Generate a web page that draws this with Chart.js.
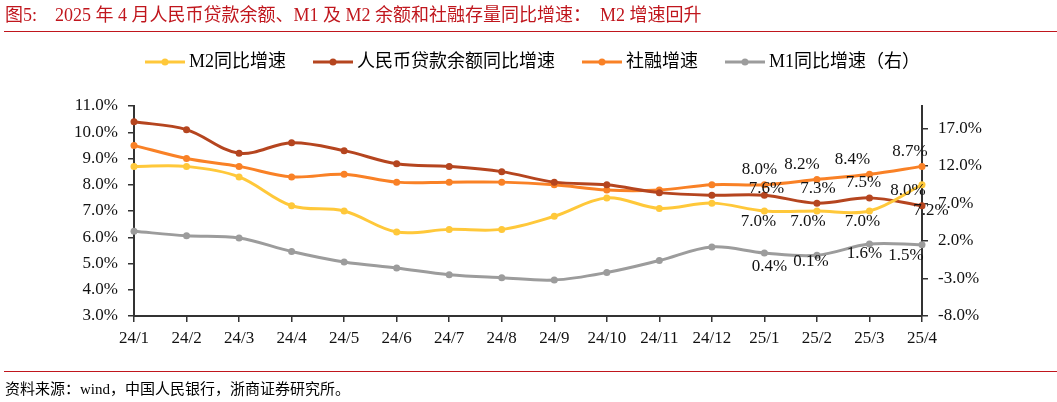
<!DOCTYPE html>
<html>
<head>
<meta charset="utf-8">
<script src="https://cdn.jsdelivr.net/npm/chart.js@4.4.0/dist/chart.umd.min.js"></script>
<style>
    body {
        margin: 0;
        width: 1057px;
        height: 402px;
        background: #fff;
        position: relative;
        overflow: hidden;
        font-family: "Liberation Serif", "Noto Sans CJK SC", serif;
    }
    #wrap { position: absolute; left: 0; top: 0; width: 1057px; height: 402px; }
    #title {
        position: absolute; left: 5px; top: 3px;
        font-size: 18px; line-height: 24px; color: #C0161D; white-space: pre;
    }
    .rule { position: absolute; left: 4px; width: 1053px; height: 1px; background: #C0161D; }
    #note {
        position: absolute; left: 5px; top: 379px;
        font-size: 15px; line-height: 20px; color: #000; white-space: pre;
    }
</style>
</head>
<body>
<div id="wrap"><canvas id="chart" width="1057" height="402"></canvas></div>
<div id="title">图5:    2025 年 4 月人民币贷款余额、M1 及 M2 余额和社融存量同比增速：  M2 增速回升</div>
<div class="rule" style="top:31px"></div>
<div class="rule" style="top:371px"></div>
<div id="note">资料来源：wind，中国人民银行，浙商证券研究所。</div>

<script>
// 数据
const months = ['24/1', '24/2', '24/3', '24/4', '24/5', '24/6', '24/7', '24/8',
    '24/9', '24/10', '24/11', '24/12', '25/1', '25/2', '25/3', '25/4'];
const m2Growth = [8.7, 8.7, 8.3, 7.2, 7.0, 6.2, 6.3, 6.3, 6.8, 7.5, 7.1, 7.3, 7.0, 7.0, 7.0, 8.0];
const loanGrowth = [10.4, 10.1, 9.2, 9.6, 9.3, 8.8, 8.7, 8.5, 8.1, 8.0, 7.7, 7.6, 7.6, 7.3, 7.5, 7.2];
const tsfGrowth = [9.5, 9.0, 8.7, 8.3, 8.4, 8.1, 8.1, 8.1, 8.0, 7.8, 7.8, 8.0, 8.0, 8.2, 8.4, 8.7];
const m1Growth = [3.3, 2.7, 2.4, 0.6, -0.8, -1.6, -2.5, -2.9, -3.2, -2.2, -0.6, 1.2, 0.4, 0.1, 1.6, 1.5];
const rightTicks = [-8, -3, 2, 7, 12, 17];

const FONT = '"Liberation Serif", "Noto Sans CJK SC", serif';
const AXIS = '#333333';

// 数据标签（最后四个月）
const labelPlugin = {
    id: 'lastLabels',
    afterDatasetsDraw(chart, args, opts) {
        const ctx = chart.ctx;
        ctx.save();
        ctx.font = '17px ' + FONT;
        ctx.fillStyle = '#111';
        ctx.textAlign = 'center';
        ctx.textBaseline = 'middle';
        chart.data.datasets.forEach((ds, i) => {
            const meta = chart.getDatasetMeta(i);
            const offs = opts.offsets[i];
            const start = ds.data.length - offs.length;
            offs.forEach((o, k) => {
                const p = meta.data[start + k];
                ctx.fillText(ds.data[start + k].toFixed(1) + '%', p.x + o[0], p.y + o[1]);
            });
        });
        ctx.restore();
    }
};

// 图例：线段 + 圆点
const legendPlugin = {
    id: 'lineLegend',
    afterDraw(chart) {
        const ctx = chart.ctx;
        const y = 62, lineLen = 40, gap = 4, itemGap = 27;
        ctx.save();
        ctx.font = '18px ' + FONT;
        const items = chart.data.datasets.map(ds => ({
            ds, w: lineLen + gap + ctx.measureText(ds.label).width
        }));
        const total = items.reduce((s, it) => s + it.w, 0) + itemGap * (items.length - 1);
        let x = (chart.width - total) / 2 + 4;
        items.forEach(it => {
            ctx.strokeStyle = it.ds.borderColor;
            ctx.lineWidth = 3;
            ctx.beginPath();
            ctx.moveTo(x, y);
            ctx.lineTo(x + lineLen, y);
            ctx.stroke();
            ctx.fillStyle = it.ds.borderColor;
            ctx.beginPath();
            ctx.arc(x + lineLen / 2, y, 3.5, 0, Math.PI * 2);
            ctx.fill();
            ctx.fillStyle = '#000';
            ctx.textAlign = 'left';
            ctx.textBaseline = 'middle';
            ctx.fillText(it.ds.label, x + lineLen + gap, y);
            x += it.w + itemGap;
        });
        ctx.restore();
    }
};

function series(label, data, color, axis) {
    return {
        label: label,
        data: data,
        yAxisID: axis,
        borderColor: color,
        backgroundColor: color,
        borderWidth: 3,
        pointRadius: 3.5,
        pointHoverRadius: 3.5,
        pointBorderWidth: 0,
        tension: 0.35,
        clip: false
    };
}

const axisGrid = { display: true, drawOnChartArea: false, drawTicks: true, tickLength: 6, color: AXIS, lineWidth: 1.5 };
const axisBorder = { display: true, color: AXIS, width: 2 };
const tickFont = { family: FONT, size: 17 };

new Chart(document.getElementById('chart'), {
    type: 'line',
    data: {
        labels: months,
        datasets: [
            series('M2同比增速', m2Growth, '#FFC83A', 'y'),
            series('人民币贷款余额同比增速', loanGrowth, '#B5451F', 'y'),
            series('社融增速', tsfGrowth, '#F98126', 'y'),
            series('M1同比增速（右）', m1Growth, '#9C9C9C', 'y1')
        ]
    },
    options: {
        responsive: false,
        animation: false,
        events: [],
        layout: { padding: { left: 0, right: 0, top: 106, bottom: 46 } },
        plugins: {
            legend: { display: false },
            tooltip: { enabled: false },
            lastLabels: {
                offsets: [
                    [[-6, 11], [-9, 11], [-7, 11], [-14, 6]],
                    [[2, -7], [1, -15], [-6, -15], [9, 5]],
                    [[-5, -15], [-15, -15], [-17, -15], [-12, -15]],
                    [[5, 14], [-6, 6], [-5, 10], [-16, 11]]
                ]
            }
        },
        scales: {
            x: {
                offset: false,
                grid: axisGrid,
                border: axisBorder,
                ticks: { font: tickFont, color: '#111', padding: 6, autoSkip: false, maxRotation: 0 },
                afterFit: s => { s.height = 40; }
            },
            y: {
                position: 'left',
                min: 3,
                max: 11,
                grid: axisGrid,
                border: axisBorder,
                ticks: {
                    stepSize: 1, font: tickFont, color: '#111', padding: 10,
                    callback: v => v.toFixed(1) + '%'
                },
                afterFit: s => { s.width = 134; }
            },
            y1: {
                position: 'right',
                min: -8,
                max: 20,
                grid: axisGrid,
                border: axisBorder,
                afterBuildTicks: s => { s.ticks = rightTicks.map(v => ({ value: v })); },
                ticks: {
                    font: tickFont, color: '#111', padding: 10,
                    callback: v => v.toFixed(1) + '%'
                },
                afterFit: s => { s.width = 135; }
            }
        }
    },
    plugins: [labelPlugin, legendPlugin]
});
</script>
</body>
</html>
